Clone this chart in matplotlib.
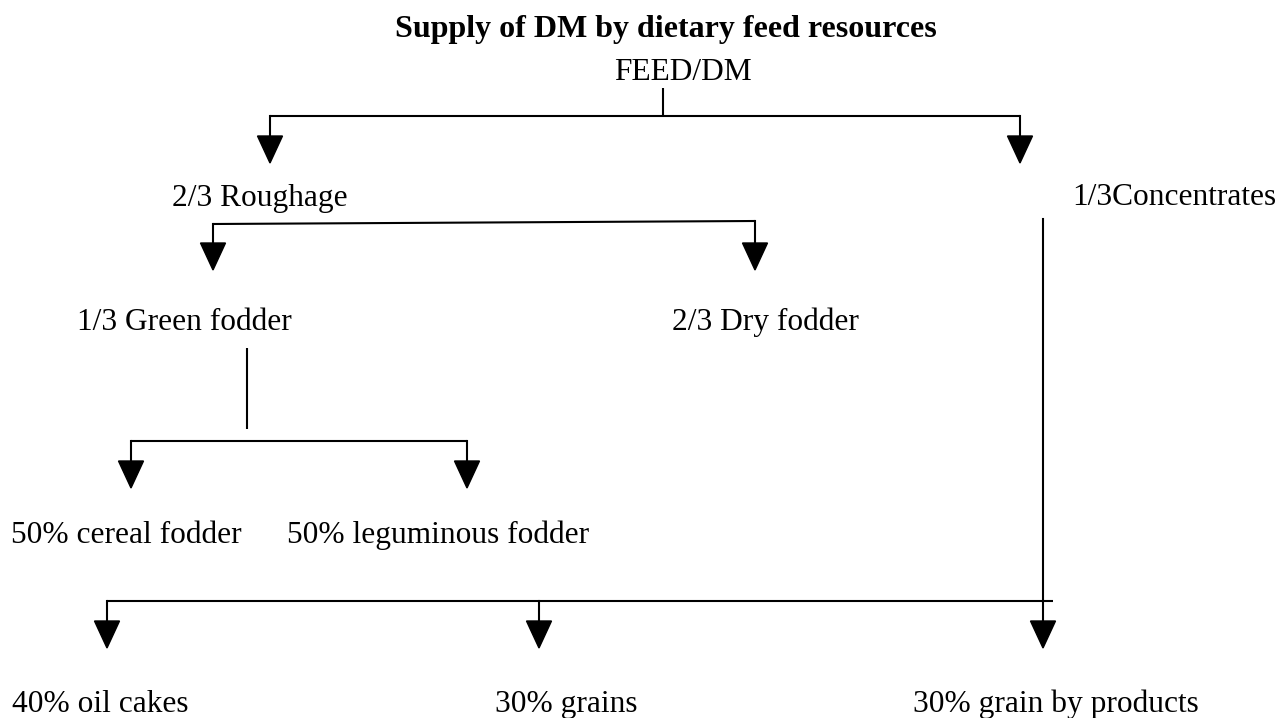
import matplotlib.pyplot as plt
from matplotlib.patches import Polygon

plt.rcParams['font.family'] = ['Liberation Serif', 'DejaVu Serif']

# node labels and where they sit (pixel space, y grows downward)
labels = ["FEED/DM", "2/3 Roughage", "1/3Concentrates", "1/3 Green fodder",
          "2/3 Dry fodder", "50% cereal fodder", "50% leguminous fodder",
          "40% oil cakes", "30% grains", "30% grain by products"]
label_x = [614, 172, 1072, 77, 672, 11, 287, 12, 495, 913]
label_y = [80, 206, 205, 330, 330, 543, 543, 712, 712, 712]

# connector lines: (x0, y0, x1, y1)
lines = [(663, 88, 663, 116), (270, 116, 1020, 116),
         (213, 224, 755, 221), (247, 348, 247, 429),
         (131, 441, 467, 441), (107, 601, 1053, 601)]
# arrows pointing down: (x, y_start, y_tip)
arrows = [(270, 116, 163), (1020, 116, 163),
          (213, 224, 270), (755, 221, 270),
          (131, 441, 488), (467, 441, 488),
          (1043, 219, 648), (107, 601, 648), (539, 601, 648)]

fig = plt.figure(figsize=(12.77, 7.18), dpi=100)
ax = fig.add_axes([0, 0, 1, 1])
ax.set_xlim(0, 1277)
ax.set_ylim(718, 0)
ax.axis('off')

ax.text(395, 37, "Supply of DM by dietary feed resources", fontsize=23,
        fontweight='bold', ha='left', va='baseline')
for lab, x, y in zip(labels, label_x, label_y):
    ax.text(x, y, lab, fontsize=22.6, ha='left', va='baseline')

for x0, y0, x1, y1 in lines:
    ax.plot([x0, x1], [y0, y1], color='black', lw=1.5, solid_capstyle='butt')

head_w, head_h = 25, 27
for x, y0, y1 in arrows:
    ax.plot([x, x], [y0, y1 - head_h], color='black', lw=1.5)
    ax.add_patch(Polygon([(x - head_w / 2, y1 - head_h), (x + head_w / 2, y1 - head_h), (x, y1)],
                         closed=True, color='black'))

plt.savefig("out.png", dpi=100)
